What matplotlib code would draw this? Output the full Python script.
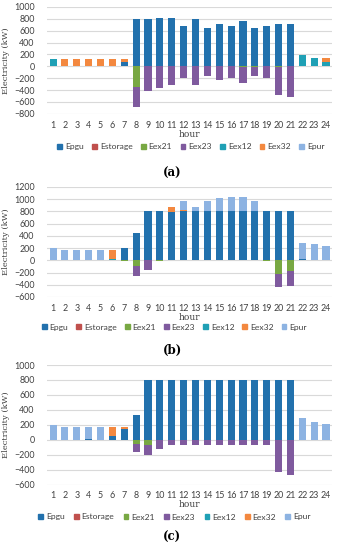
import numpy as np
import matplotlib.pyplot as plt
from matplotlib.patches import Patch

# --------------------------------------------------------------------------------
# Data (kW per hour)
# --------------------------------------------------------------------------------

hours = [str(h) for h in range(1, 25)]
series = ["Epgu", "Estorage", "Eex21", "Eex23", "Eex12", "Eex32", "Epur"]
colors = ["#2271ad", "#c0504d", "#78a843", "#7f5a9e", "#1fa0b5", "#f3883f", "#8db3e2"]

# panel (a)
epgu_a = [0, 0, 0, 0, 0, 0, 65, 800, 795, 805, 805, 685, 800, 640, 720, 675, 760, 645, 685, 710, 720, 12, 0, 0]
estorage_a = [0] * 24
eex21_a = [0, 0, 0, 0, 0, 0, 0, -340, 0, 0, 0, 0, 0, 0, 0, 0, -8, -10, 0, -12, 0, 0, 0, 0]
eex23_a = [0, 0, 0, 0, 0, 0, 0, -350, -410, -360, -315, -205, -320, -160, -232, -200, -272, -160, -205, -468, -520, 0, 0, 0]
eex12_a = [130, 0, 0, 0, 0, 0, 0, 0, 0, 0, 0, 0, 0, 0, 0, 0, 0, 0, 0, 0, 0, 170, 145, 75]
eex32_a = [0, 115, 115, 115, 115, 115, 50, 0, 0, 0, 0, 0, 0, 0, 0, 0, 0, 0, 0, 0, 0, 0, 0, 60]
epur_a = [0] * 24

# panel (b)
epgu_b = [0, 0, 0, 0, 0, 0, 195, 455, 800, 800, 795, 800, 800, 800, 800, 800, 800, 800, 800, 800, 800, 15, 0, 0]
estorage_b = [0] * 24
eex21_b = [0, 0, 0, 0, 0, 0, -10, -100, 0, -15, 0, 0, 0, 0, 0, 0, 0, 0, -15, -230, -180, 0, 0, 0]
eex23_b = [0, 0, 0, 0, 0, 0, 0, -160, -150, 0, 0, 0, 0, 0, 0, 0, 0, 0, 0, -200, -245, 0, 0, 0]
eex12_b = [0, 0, 0, 0, 0, 20, 0, 0, 0, 0, 0, 0, 0, 0, 0, 0, 0, 0, 0, 0, 0, 0, 0, 0]
eex32_b = [0, 0, 0, 0, 0, 150, 0, 0, 0, 0, 80, 20, 0, 0, 0, 0, 0, 0, 0, 0, 0, 0, 0, 0]
epur_b = [208, 172, 172, 172, 172, 0, 0, 0, 0, 0, 0, 150, 80, 170, 215, 230, 230, 165, 0, 0, 0, 275, 268, 230]

# panel (c)
epgu_c = [0, 0, 0, 8, 0, 53, 148, 325, 800, 800, 800, 800, 800, 800, 800, 800, 800, 800, 800, 800, 800, 0, 0, 0]
estorage_c = [0] * 24
eex21_c = [0, 0, 0, 0, 0, 0, 0, -53, -70, 0, 0, 0, 0, 0, 0, 0, 0, 0, 0, 0, 0, 0, 0, 0]
eex23_c = [0, 0, 0, 0, 0, 0, 0, -115, -130, -122, -67, -67, -67, -67, -67, -67, -67, -67, -67, -430, -470, 0, 0, 0]
eex12_c = [0] * 24
eex32_c = [0, 0, 0, 0, 0, 120, 28, 0, 0, 0, 0, 0, 0, 0, 0, 0, 0, 0, 0, 0, 0, 0, 0, 0]
epur_c = [198, 173, 173, 165, 173, 0, 0, 0, 0, 0, 0, 0, 0, 0, 0, 0, 0, 0, 0, 0, 0, 290, 236, 210]

panels = [
    ([epgu_a, estorage_a, eex21_a, eex23_a, eex12_a, eex32_a, epur_a], (-800, 1000), "(a)"),
    ([epgu_b, estorage_b, eex21_b, eex23_b, eex12_b, eex32_b, epur_b], (-600, 1200), "(b)"),
    ([epgu_c, estorage_c, eex21_c, eex23_c, eex12_c, eex32_c, epur_c], (-600, 1000), "(c)"),
]

# --------------------------------------------------------------------------------
# Layout (figure fractions)
# --------------------------------------------------------------------------------

left, width = 0.137, 0.828
boxes = [(0.793, 0.1945), (0.46, 0.2), (0.119, 0.2173)]
legend_y = [0.733, 0.405, 0.06]
legend_x = [0.555, 0.507, 0.507]
legend_gap = [1.0, 0.95, 1.1]
label_y = [0.685, 0.362, 0.022]

fig = plt.figure(figsize=(3.44, 5.5), dpi=100)
x = np.arange(len(hours))
tick_font = "Lato"

for (data, ylim, tag), (bottom, height), ly, lx, gap, ty in zip(panels, boxes, legend_y, legend_x, legend_gap, label_y):
    ax = fig.add_axes([left, bottom, width, height])
    pos = np.zeros(len(hours))
    neg = np.zeros(len(hours))
    for values, color in zip(data, colors):
        v = np.array(values, dtype=float)
        base = np.where(v >= 0, pos, neg)
        ax.bar(x, v, width=0.6, bottom=base, color=color, zorder=3)
        pos = pos + np.clip(v, 0, None)
        neg = neg + np.clip(v, None, 0)

    ax.set_ylim(*ylim)
    ax.set_xlim(-0.5, len(hours) - 0.5)
    ax.set_yticks(np.arange(ylim[0], ylim[1] + 1, 200))
    ax.set_xticks(x)
    ax.set_xticklabels(hours)
    ax.grid(axis="y", color="#d9d9d9", linewidth=0.8, zorder=0)
    for s in ax.spines.values():
        s.set_visible(False)
    ax.tick_params(length=0, labelsize=6.4, colors="#404040")
    ax.tick_params(axis="y", pad=9)
    ax.tick_params(axis="x", pad=5)
    for lab in ax.get_xticklabels() + ax.get_yticklabels():
        lab.set_family(tick_font)
    ax.set_xlabel("hour", fontsize=6.5, family="DejaVu Serif", color="#404040", labelpad=0)
    ax.set_ylabel("Electricity (kW)", fontsize=6, family="DejaVu Serif", color="#404040", labelpad=3)

    handles = [Patch(color=c, label=n) for n, c in zip(series, colors)]
    fig.legend(handles=handles, loc="center", bbox_to_anchor=(lx, ly), ncol=7, frameon=False,
               prop={"family": tick_font, "size": 6.1}, handlelength=0.55, handleheight=0.55,
               handletextpad=0.35, columnspacing=gap, labelcolor="#404040")
    fig.text(0.5, ty, tag, ha="center", va="center", fontsize=8.5, fontweight="bold", family="DejaVu Serif")

plt.savefig("out.png", dpi=100)
plt.close()
